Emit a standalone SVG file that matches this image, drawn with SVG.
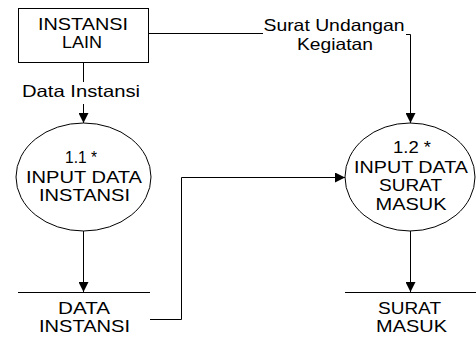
<svg xmlns="http://www.w3.org/2000/svg" width="476" height="341" viewBox="0 0 476 341">
<defs>
<marker id="arr" viewBox="0 0 10 10" refX="10" refY="5" markerWidth="10" markerHeight="10" markerUnits="userSpaceOnUse" orient="auto">
<path d="M0,0 L10,5 L0,10 Z" fill="#000"/>
</marker>
<style>
text{font-family:"Liberation Sans",Arial,sans-serif;font-size:16.5px;fill:#000;text-anchor:middle}
.shape{fill:#fff;stroke:#000;stroke-width:1}
.line{fill:none;stroke:#000;stroke-width:1}
</style>
</defs>
<rect width="476" height="341" fill="#fff"/>
<g id="connectors">
<path class="line" d="M148,33.5 H263"/>
<path class="line" d="M406,34.5 H410.5 V123" marker-end="url(#arr)"/>
<path class="line" d="M83.5,62 V82"/>
<path class="line" d="M83.5,104 V123" marker-end="url(#arr)"/>
<path class="line" d="M83.5,231 V292" marker-end="url(#arr)"/>
<path class="line" d="M410.5,231 V292" marker-end="url(#arr)"/>
<path class="line" d="M150,319.5 H181.5 V177.5 H345" marker-end="url(#arr)"/>
<text x="334" y="31" textLength="141" lengthAdjust="spacingAndGlyphs">Surat Undangan</text>
<text x="335" y="50" textLength="76" lengthAdjust="spacingAndGlyphs">Kegiatan</text>
<text x="81" y="97" textLength="118" lengthAdjust="spacingAndGlyphs">Data Instansi</text>
</g>
<g id="instansi-lain">
<rect class="shape" x="18.5" y="8.5" width="130" height="54"/>
<text x="83" y="30" textLength="90" lengthAdjust="spacingAndGlyphs">INSTANSI</text>
<text x="82" y="48" textLength="40" lengthAdjust="spacingAndGlyphs">LAIN</text>
</g>
<g id="p11">
<ellipse class="shape" cx="83.5" cy="177" rx="67.5" ry="54"/>
<text x="81" y="163" textLength="32" lengthAdjust="spacingAndGlyphs">1.1 *</text>
<text x="84" y="182.5" textLength="116" lengthAdjust="spacingAndGlyphs">INPUT DATA</text>
<text x="84.5" y="200.5" textLength="91" lengthAdjust="spacingAndGlyphs">INSTANSI</text>
</g>
<g id="p12">
<ellipse class="shape" cx="410" cy="177" rx="65" ry="54"/>
<text x="412" y="153" textLength="38" lengthAdjust="spacingAndGlyphs">1.2 *</text>
<text x="411" y="172.5" textLength="114" lengthAdjust="spacingAndGlyphs">INPUT DATA</text>
<text x="410.5" y="191" textLength="63" lengthAdjust="spacingAndGlyphs">SURAT</text>
<text x="411" y="209.5" textLength="71" lengthAdjust="spacingAndGlyphs">MASUK</text>
</g>
<g id="store-data-instansi">
<path class="line" d="M18,292.5 H150"/>
<text x="84" y="314" textLength="52" lengthAdjust="spacingAndGlyphs">DATA</text>
<text x="84.5" y="332" textLength="91" lengthAdjust="spacingAndGlyphs">INSTANSI</text>
</g>
<g id="store-surat-masuk">
<path class="line" d="M345,292.5 H476"/>
<text x="409.5" y="314" textLength="63" lengthAdjust="spacingAndGlyphs">SURAT</text>
<text x="411.5" y="332" textLength="71" lengthAdjust="spacingAndGlyphs">MASUK</text>
</g>
</svg>
